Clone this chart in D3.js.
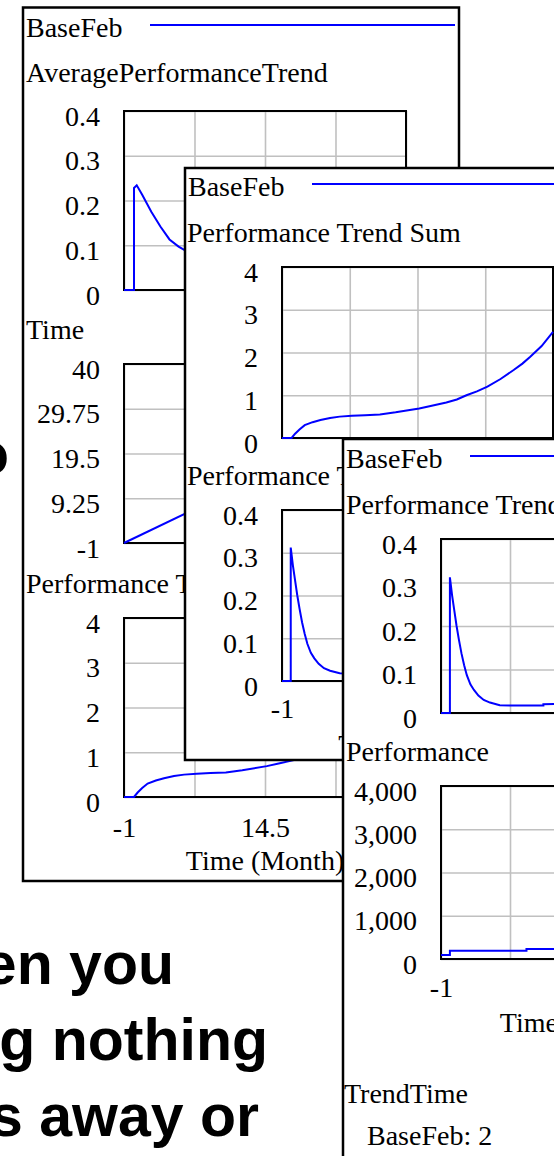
<!DOCTYPE html>
<html lang="en">
<head>
<meta charset="utf-8">
<title>BaseFeb run</title>
<script src="https://d3js.org/d3.v7.min.js"></script>
<style>
  body { margin: 0; background: #fff; }
</style>
</head>
<body>
<div id="chart"></div>
<script>
// ---- data ----
var runName = "BaseFeb";
var xTicks = [-1, 14.5, 30];                 // labelled time ticks
var xGrid = [-1, 6.75, 14.5, 22.25, 30];     // vertical grid lines

var trendTicks = [0, 0.1, 0.2, 0.3, 0.4];
var sumTicks = [0, 1, 2, 3, 4];
var timeTicks = [-1, 9.25, 19.5, 29.75, 40];
var perfTicks = [0, 1000, 2000, 3000, 4000];

var avgTrendT = [-1, 0.1, 0.1, 0.4, 1, 2, 3, 4, 5, 6, 8, 10, 12, 15, 18, 21, 24, 27, 30];
var avgTrendV = [0, 0, 0.228, 0.234, 0.213, 0.175, 0.142, 0.113, 0.097, 0.085, 0.068, 0.057, 0.05, 0.043, 0.04, 0.04, 0.042, 0.046, 0.052];

var timeT = [-1, 30];
var timeV = [-1, 30];

var sumT = [-1, 0.1, 0.5, 1, 1.6, 2.5, 3.4, 4.5, 5.6, 7, 8.5, 10.2, 12, 14.7, 16, 17.8, 19, 20.1, 21.3, 22.5, 24, 25.5, 26.5, 27.4, 28.7, 30];
var sumV = [0, 0, 0.1, 0.2, 0.3, 0.37, 0.42, 0.47, 0.5, 0.52, 0.535, 0.55, 0.6, 0.69, 0.75, 0.83, 0.9, 1.0, 1.09, 1.2, 1.38, 1.59, 1.74, 1.9, 2.15, 2.48];

var trendT = [-1, 0, 0, 0.25, 0.5, 0.75, 1, 1.3, 1.6, 1.9, 2.3, 2.7, 3.2, 3.8, 4.5, 5.6, 7, 8.5, 10.5, 10.5, 12, 14, 17, 20, 23, 26, 30];
var trendV = [0, 0, 0.312, 0.27, 0.235, 0.2, 0.17, 0.137, 0.11, 0.087, 0.066, 0.053, 0.04, 0.03, 0.024, 0.018, 0.017, 0.017, 0.017, 0.02, 0.021, 0.024, 0.03, 0.04, 0.05, 0.07, 0.1];

var perfT = [-1, 0, 8.6, 14, 18, 22, 26, 30];
var perfV = [90, 190, 230, 270, 320, 400, 520, 700];

var trendTimeValue = 2;
var slideLines = ["en you", "g nothing", "s away or"];

// ---- setup ----
var w = 554, h = 1156;
var serif = "'Liberation Serif', 'Times New Roman', serif";
var fs = 28;
var blue = "#0000ff";

var svg = d3.select("#chart").append("svg")
  .attr("width", w).attr("height", h)
  .style("display", "block");
svg.append("rect").attr("width", w).attr("height", h).attr("fill", "#fff");

// slide text sitting behind the windows
var slide = svg.append("g")
  .attr("font-family", "'Liberation Sans', Arial, sans-serif")
  .attr("font-weight", "bold").attr("font-size", 59)
  .attr("text-anchor", "end").attr("fill", "#000");
slide.append("text").attr("x", 9).attr("y", 474).text("o");
var slideEnds = [174, 268, 259];
var slideBase = [984, 1060, 1136];
slide.selectAll("text.line").data(slideLines).enter().append("text")
  .attr("class", "line")
  .attr("x", function(d, i) { return slideEnds[i]; })
  .attr("y", function(d, i) { return slideBase[i]; })
  .text(function(d) { return d; });

function label(g, x, y, str, anchor) {
  return g.append("text").attr("x", x).attr("y", y)
    .attr("font-family", serif).attr("font-size", fs)
    .attr("text-anchor", anchor || "start").attr("fill", "#000")
    .text(str);
}

function makeWindow(x, y, ww, hh, legendY, legendX1) {
  var g = svg.append("g");
  g.append("rect").attr("x", x).attr("y", y).attr("width", ww).attr("height", hh)
    .attr("fill", "#fff").attr("stroke", "#000").attr("stroke-width", 2.5);
  label(g, x + 3, legendY, runName);
  g.append("line").attr("x1", x + 3 + 124).attr("x2", legendX1)
    .attr("y1", legendY - 12).attr("y2", legendY - 12)
    .attr("stroke", blue).attr("stroke-width", 2);
  return g;
}

function drawChart(g, o) {
  var x = d3.scaleLinear().domain([-1, 30]).range([o.x0, o.x1]);
  var y = d3.scaleLinear().domain(o.yDomain).range([o.y1, o.y0]);

  label(g, o.titleX, o.titleY, o.title);

  // grid
  g.append("g").attr("transform", "translate(" + o.x0 + ",0)")
    .call(d3.axisLeft(y).tickValues(o.yTicks).tickSize(-(o.x1 - o.x0)).tickFormat(""))
    .call(function(a) { a.select(".domain").remove(); })
    .selectAll("line").attr("stroke", "#c0c0c0").attr("stroke-width", 1.6);
  g.append("g").attr("transform", "translate(0," + o.y1 + ")")
    .call(d3.axisBottom(x).tickValues(xGrid).tickSize(-(o.y1 - o.y0)).tickFormat(""))
    .call(function(a) { a.select(".domain").remove(); })
    .selectAll("line").attr("stroke", "#c0c0c0").attr("stroke-width", 1.6);

  g.append("rect").attr("x", o.x0).attr("y", o.y0)
    .attr("width", o.x1 - o.x0).attr("height", o.y1 - o.y0)
    .attr("fill", "none").attr("stroke", "#000").attr("stroke-width", 2);

  // y tick labels
  var ya = g.append("g").attr("transform", "translate(" + o.x0 + ",0)")
    .call(d3.axisLeft(y).tickValues(o.yTicks).tickSize(0).tickPadding(24).tickFormat(o.fmt));
  ya.select(".domain").remove();
  ya.attr("font-family", serif).attr("font-size", fs);
  ya.selectAll("text").attr("dy", "0.5em").attr("fill", "#000");

  if (o.xLabels) {
    var xa = g.append("g").attr("transform", "translate(0," + o.y1 + ")")
      .call(d3.axisBottom(x).tickValues(xTicks).tickSize(0).tickPadding(o.xPad).tickFormat(function(d) { return String(d); }));
    xa.select(".domain").remove();
    xa.attr("font-family", serif).attr("font-size", fs);
    xa.selectAll("text").attr("fill", "#000");
    label(g, (o.x0 + o.x1) / 2, o.y1 + 73, "Time (Month)", "middle");
  }

  var pts = o.t.map(function(t, i) { return [t, o.v[i]]; });
  var line = d3.line()
    .x(function(d) { return x(d[0]); })
    .y(function(d) { return y(d[1]); })
    .curve(o.step ? d3.curveStepAfter : d3.curveLinear);
  g.append("path").datum(pts).attr("d", line)
    .attr("fill", "none").attr("stroke", blue).attr("stroke-width", 2);
}

var numFmt = function(d) { return String(d); };

// window 1
var w1 = makeWindow(23, 7.5, 436, 873.5, 37, 455);
drawChart(w1, { x0: 124, x1: 406, y0: 111, y1: 290, yDomain: [0, 0.4], yTicks: trendTicks, fmt: numFmt,
  t: avgTrendT, v: avgTrendV, title: "AveragePerformanceTrend", titleX: 26, titleY: 82 });
drawChart(w1, { x0: 124, x1: 406, y0: 364, y1: 543, yDomain: [-1, 40], yTicks: timeTicks, fmt: numFmt,
  t: timeT, v: timeV, title: "Time", titleX: 26, titleY: 339 });
drawChart(w1, { x0: 124, x1: 406, y0: 618, y1: 797, yDomain: [0, 4], yTicks: sumTicks, fmt: numFmt,
  t: sumT, v: sumV, title: "Performance Trend Sum", titleX: 26, titleY: 593, xLabels: true, xPad: 20 });

// window 2
var w2 = makeWindow(185, 168, 500, 592, 196, 700);
drawChart(w2, { x0: 282, x1: 553, y0: 267, y1: 438, yDomain: [0, 4], yTicks: sumTicks, fmt: numFmt,
  t: sumT, v: sumV, title: "Performance Trend Sum", titleX: 187, titleY: 242 });
drawChart(w2, { x0: 282, x1: 553, y0: 510, y1: 681, yDomain: [0, 0.4], yTicks: trendTicks, fmt: numFmt,
  t: trendT, v: trendV, title: "Performance Trend", titleX: 187, titleY: 485, xLabels: true, xPad: 17 });

// window 3
var w3 = makeWindow(343, 439, 500, 800, 468, 800);
drawChart(w3, { x0: 441, x1: 717, y0: 539, y1: 713, yDomain: [0, 0.4], yTicks: trendTicks, fmt: numFmt,
  t: trendT, v: trendV, title: "Performance Trend", titleX: 346, titleY: 514 });
drawChart(w3, { x0: 441, x1: 717, y0: 786, y1: 959, yDomain: [0, 4000], yTicks: perfTicks, fmt: d3.format(","),
  t: perfT, v: perfV, step: true, title: "Performance", titleX: 346, titleY: 761, xLabels: true, xPad: 18 });
label(w3, 344, 1103, "TrendTime");
label(w3, 367, 1145, runName + ": " + trendTimeValue);
</script>
</body>
</html>
